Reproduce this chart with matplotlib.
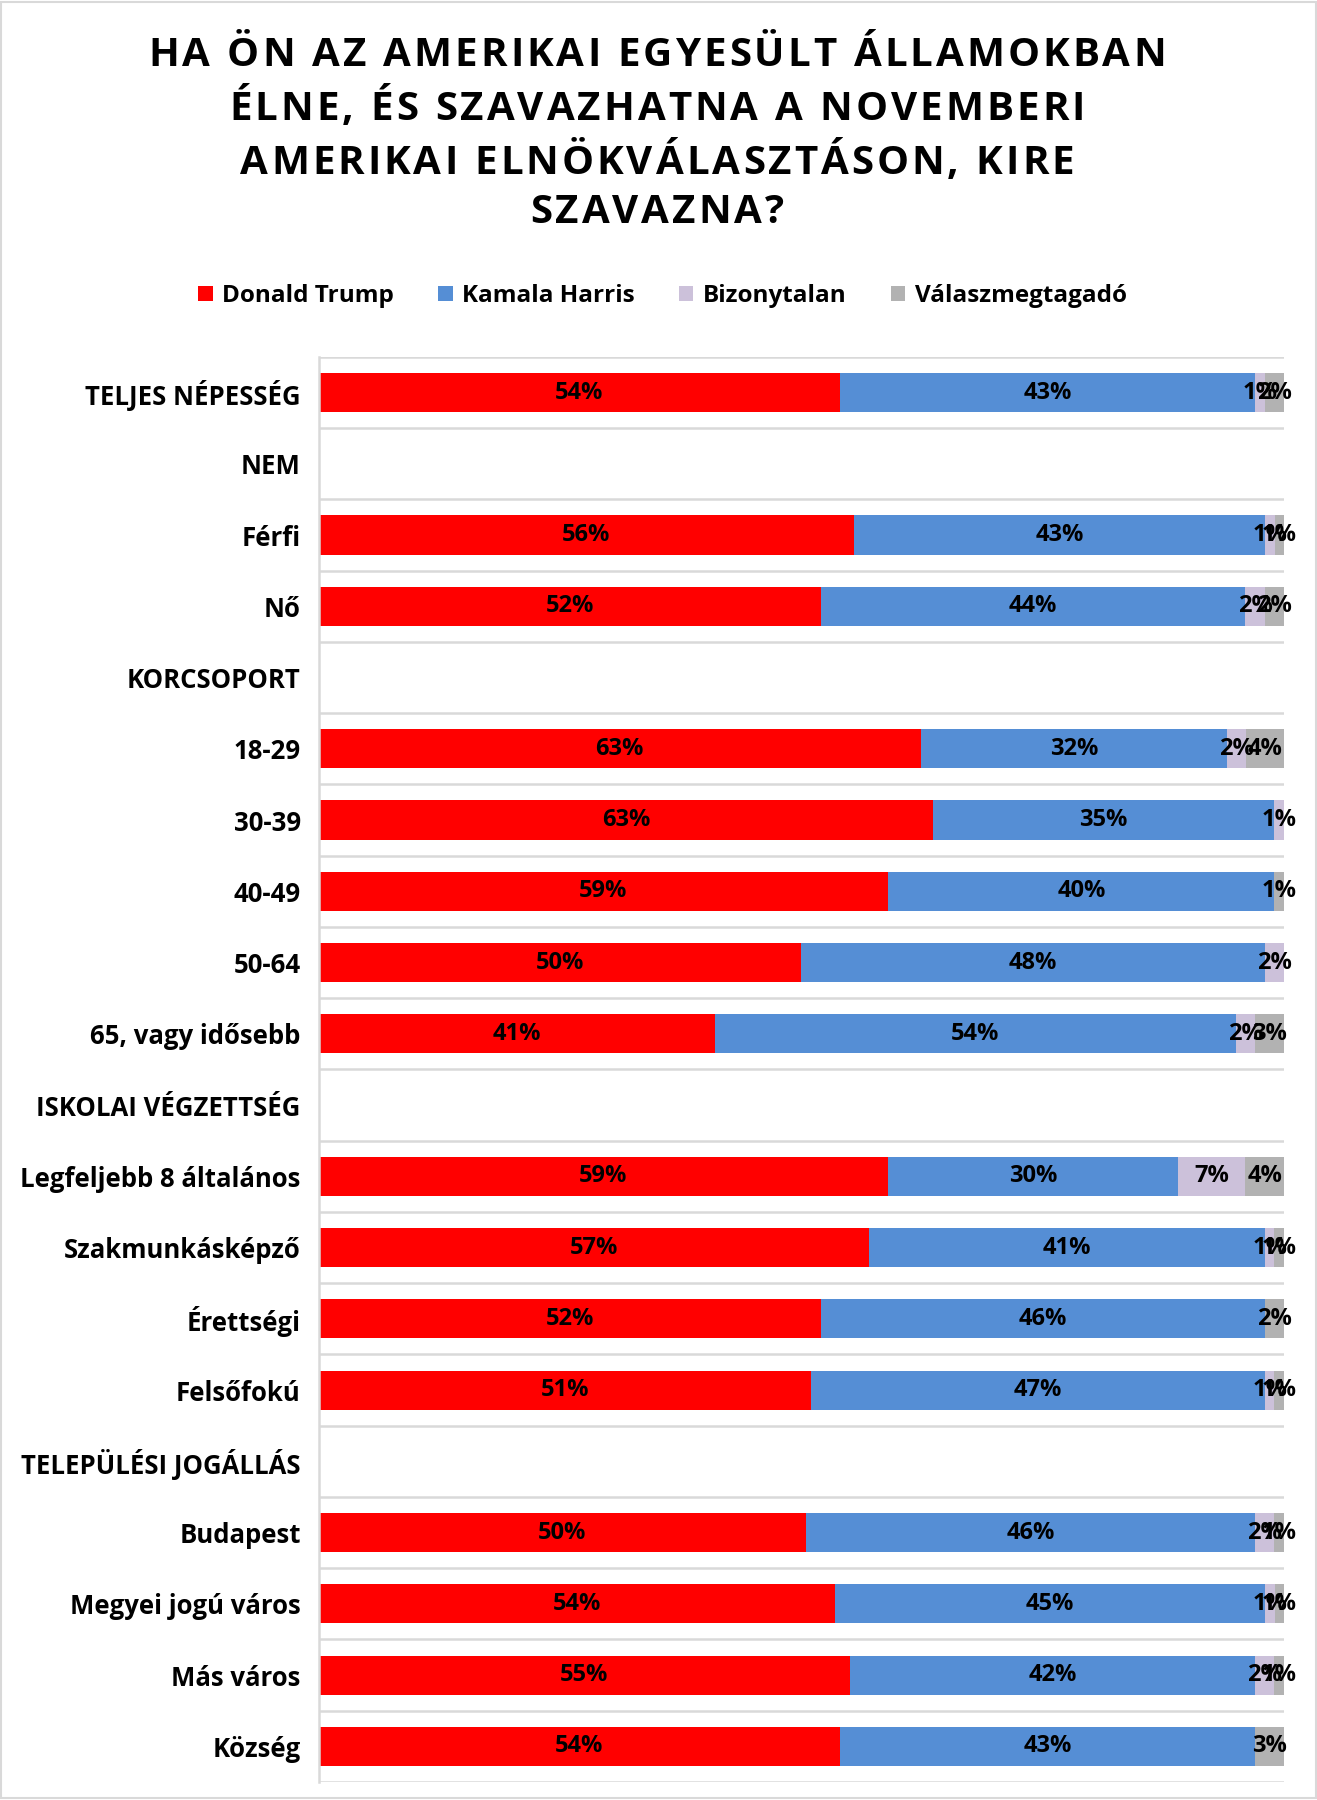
import numpy as np
import matplotlib
matplotlib.use("Agg")
import matplotlib.pyplot as plt
from matplotlib.patches import Rectangle

plt.rcParams['font.family'] = ['Open Sans', 'DejaVu Sans']

categories = [
    "TELJES NÉPESSÉG", "NEM", "Férfi", "Nő", "KORCSOPORT",
    "18-29", "30-39", "40-49", "50-64", "65, vagy idősebb",
    "ISKOLAI VÉGZETTSÉG", "Legfeljebb 8 általános", "Szakmunkásképző",
    "Érettségi", "Felsőfokú", "TELEPÜLÉSI JOGÁLLÁS", "Budapest",
    "Megyei jogú város", "Más város", "Község",
]
series = ["Donald Trump", "Kamala Harris", "Bizonytalan", "Válaszmegtagadó"]
colors = ["#FF0000", "#558ED5", "#CCC1DA", "#B2B2B2"]
title_lines = [
    "HA ÖN AZ AMERIKAI EGYESÜLT ÁLLAMOKBAN",
    "ÉLNE, ÉS SZAVAZHATNA A NOVEMBERI",
    "AMERIKAI ELNÖKVÁLASZTÁSON, KIRE",
    "SZAVAZNA?",
]

# header rows have no values
trump = [54, 0, 56, 52, 0, 63, 63, 59, 50, 41, 0, 59, 57, 52, 51, 0, 50, 54, 55, 54]
harris = [43, 0, 43, 44, 0, 32, 35, 40, 48, 54, 0, 30, 41, 46, 47, 0, 46, 45, 42, 43]
unsure = [1, 0, 1, 2, 0, 2, 1, 0, 2, 2, 0, 7, 1, 0, 1, 0, 2, 1, 2, 0]
refuse = [2, 0, 1, 2, 0, 4, 0, 1, 0, 3, 0, 4, 1, 2, 1, 0, 1, 1, 1, 3]

data = np.array([trump, harris, unsure, refuse], dtype=float)
totals = data.sum(axis=0)
share = np.divide(data, totals, out=np.zeros_like(data), where=totals > 0)

W, H = 1317, 1800
fig = plt.figure(figsize=(W / 100, H / 100), dpi=100)
ax = fig.add_axes([0.242, 0.01, 0.733, 0.7917])

n = len(categories)
y = np.arange(n)
left = np.zeros(n)
for i, name in enumerate(series):
    ax.barh(y, share[i], left=left, height=0.55, color=colors[i], label=name, zorder=2)
    for j in range(n):
        if data[i, j] > 0:
            ax.text(left[j] + share[i, j] / 2, y[j], f"{int(data[i, j])}%",
                    ha="center", va="center", fontsize=17, fontweight="bold",
                    color="black", zorder=3)
    left += share[i]

ax.set_xlim(0, 1)
ax.set_ylim(n - 0.5, -0.5)
ax.set_yticks(y)
ax.set_yticklabels(categories, fontsize=18.5, fontweight="bold")
ax.tick_params(axis="y", length=0, pad=13)
ax.set_xticks([])
for b in np.arange(n + 1) - 0.5:
    ax.axhline(b, color="#D9D9D9", lw=1.8, zorder=1)
for s in ["top", "right", "bottom"]:
    ax.spines[s].set_visible(False)
ax.spines["left"].set_color("#D9D9D9")
ax.spines["left"].set_linewidth(1.8)


# title with letter spacing, drawn char by char
def spaced_line(text, xc, yc, size, gap):
    r = fig.canvas.get_renderer()
    widths = []
    for ch in text:
        t = fig.text(0, 0, ch if ch != " " else "a", fontsize=size, fontweight="bold")
        w = t.get_window_extent(r).width
        if ch == " ":
            w *= 0.45
        widths.append(w)
        t.remove()
    total = sum(widths) + gap * (len(text) - 1)
    x = xc * W - total / 2
    for ch, w in zip(text, widths):
        fig.text(x / W, yc, ch, fontsize=size, fontweight="bold",
                 ha="left", va="center")
        x += w + gap


for k, line in enumerate(title_lines):
    spaced_line(line, 0.499, [0.9694, 0.9389, 0.9094, 0.8817][k], 29, 3)

fig.legend(loc="center", bbox_to_anchor=(0.503, 0.8356), ncol=4, frameon=False,
           prop={"size": 17.5, "weight": "bold"}, handlelength=0.6, handleheight=0.6,
           columnspacing=1.8, handletextpad=0.4)

fig.patches.append(Rectangle((0.001, 0.001), 0.998, 0.998, transform=fig.transFigure,
                             fill=False, edgecolor="#D9D9D9", lw=1.5))

fig.savefig("out.png", dpi=100)
